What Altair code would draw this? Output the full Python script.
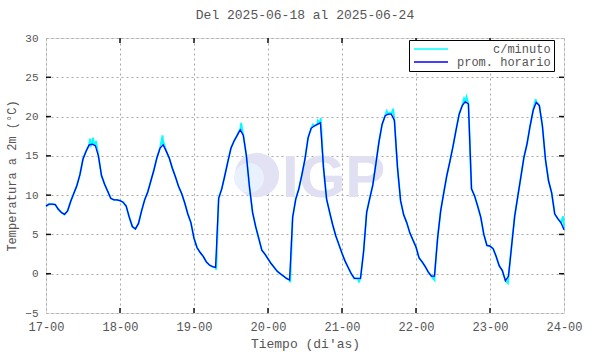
import altair as alt
import pandas as pd

# ---------------- data ----------------
horas = list(range(169))  # hours since 17-00
prom_horario = [
    8.6, 8.85, 8.85, 8.8, 8.2, 7.8, 7.55, 8.0, 9.2, 10.2, 11.2, 12.6, 14.6, 15.6, 16.4, 16.5,
    16.3, 15.0, 12.5, 11.4, 10.5, 9.6, 9.4, 9.4,
    9.3, 9.1, 8.6, 7.2, 6.0, 5.7, 6.4, 8.0, 9.4, 10.4, 11.8, 13.2, 14.8, 16.0, 16.4, 15.6,
    14.7, 13.4, 12.3, 11.1, 10.2, 9.0, 7.6, 6.5,
    4.5, 3.3, 2.7, 2.2, 1.5, 1.1, 0.9, 0.8, 9.6, 10.8, 12.5, 14.3, 16.0, 16.9, 17.6, 18.3,
    17.6, 15.0, 11.0, 7.8, 6.0, 4.5, 3.0, 2.5,
    1.9, 1.3, 0.8, 0.3, 0.0, -0.3, -0.6, -0.8, 7.2, 9.5, 10.8, 12.6, 14.6, 17.3, 18.5, 18.8,
    19.0, 19.2, 13.5, 9.5, 7.8, 6.2, 4.8, 3.7,
    2.6, 1.6, 0.8, 0.0, -0.6, -0.6, -0.6, 2.8, 7.8, 9.6, 11.3, 14.0, 16.8, 19.0, 20.1, 20.3,
    20.3, 19.5, 13.5, 9.3, 7.5, 6.5, 5.2, 4.3,
    3.4, 2.0, 1.5, 0.9, 0.2, -0.3, -0.3, 4.5, 8.0, 10.3, 12.5, 14.3, 16.2, 18.3, 20.3, 21.4,
    21.9, 21.6, 10.8, 9.9, 8.6, 7.2, 5.0, 3.6,
    3.5, 3.2, 2.2, 1.0, 0.4, -0.9, -0.3, 3.5, 7.3, 9.8, 12.3, 14.8, 16.5, 18.8, 20.8, 21.8,
    21.4, 18.8, 14.5, 11.8, 10.3, 7.6, 7.0, 6.5,
    5.6,
]
# extra minute-level excursions visible around the peaks / minima
picos_h = [14.3, 14.6, 15.2, 15.6, 16.2, 37.8, 38.2, 62.5, 63.3, 63.7, 86.6, 88.2, 89.1,
           110.5, 111.5, 112.6, 135.6, 136.4, 136.8, 158.8, 159.5,
           55.2, 79.2, 101.5, 126.0, 149.8, 167.7]
picos_t = [17.2, 16.3, 17.3, 16.4, 16.9, 17.6, 16.6, 18.1, 19.2, 18.2, 19.0, 19.5, 19.8,
           20.7, 20.5, 21.0, 22.3, 22.5, 21.9, 22.2, 21.7,
           0.5, -1.1, -1.0, -0.8, -1.2, 7.3]

series = ["c/minuto", "prom. horario"]
colores = ["#00ffff", "#0000ff"]
dias_ticks = [0, 24, 48, 72, 96, 120, 144, 168]
temp_ticks = [-5, 0, 5, 10, 15, 20, 25, 30]

df_h = pd.DataFrame({"h": horas, "T": prom_horario, "serie": series[1]})
min_pts = sorted(list(zip(horas, prom_horario)) + list(zip(picos_h, picos_t)))
df_m = pd.DataFrame(min_pts, columns=["h", "T"])
df_m["serie"] = series[0]

# ---------------- layout ----------------
W, H = 518, 275
FONT = "Liberation Mono"
TXT = "#555555"

xs = alt.Scale(domain=[0, 168], nice=False, zero=False)
ys = alt.Scale(domain=[-5, 30], nice=False, zero=False)
cs = alt.Scale(domain=series, range=colores)

x_axis = alt.Axis(values=dias_ticks, labelExpr="(17 + datum.value/24) + '-00'",
                  title="Tiempo (di'as)", grid=True, gridDash=[2, 3], gridColor="#a8a8a8",
                  ticks=False, domain=False, labelFont=FONT, labelFontSize=12,
                  labelColor=TXT, labelPadding=8, labelFlush=False, labelOverlap=False,
                  titleFont=FONT, titleFontSize=13, titleFontWeight="normal",
                  titleColor=TXT, titlePadding=5)
y_axis = alt.Axis(values=temp_ticks, title="Temperatura a 2m (°C)", grid=True,
                  gridDash=[2, 3], gridColor="#a8a8a8", ticks=False, domain=False,
                  labelFont=FONT, labelFontSize=11, labelColor=TXT, labelPadding=8,
                  labelFlush=False, labelOverlap=False, titleFont=FONT, titleFontSize=12,
                  titleFontWeight="normal", titleColor=TXT, titlePadding=6)

X = alt.X("h:Q", scale=xs, axis=x_axis)
Y = alt.Y("T:Q", scale=ys, axis=y_axis)
PAD = "\u200b" + "\u00a0" * 5
legend = alt.Legend(orient="none", legendX=363, legendY=2, title=None,
                    symbolType="M-1,0H7.5", symbolSize=64, symbolStrokeWidth=1.3,
                    labelFont=FONT, labelFontSize=12, labelColor=TXT,
                    labelExpr="datum.value == 'c/minuto' ? '" + PAD + "c/minuto' : datum.value",
                    strokeColor="black", fillColor="white", padding=3, rowPadding=1,
                    labelOffset=33, cornerRadius=0)
C = alt.Color("serie:N", scale=cs, legend=legend)

one = pd.DataFrame({"a": [0]})
logo_circle = alt.Chart(one).mark_point(filled=True, shape="circle", opacity=1,
                                        color="#e2e2f4").encode(
    x=alt.value(211), y=alt.value(137), size=alt.value(1960))
logo_inner = alt.Chart(one).mark_point(filled=True, shape="circle", opacity=1,
                                       color="#e9f1fc").encode(
    x=alt.value(203), y=alt.value(140), size=alt.value(900))
logo_text = alt.Chart(one).mark_text(text="IGP", font="Liberation Sans", fontSize=60,
                                     fontWeight="bold", color="#e0e0f2", align="left",
                                     baseline="alphabetic").encode(
    x=alt.value(236), y=alt.value(159))

line_min = alt.Chart(df_m).mark_line(strokeWidth=1.9, interpolate="linear").encode(
    x=X, y=Y, color=C)
line_h = alt.Chart(df_h).mark_line(strokeWidth=1.3, interpolate="linear").encode(
    x=X, y=Y, color=C)

xt = pd.DataFrame({"h": dias_ticks[1:-1]})
yt = pd.DataFrame({"T": temp_ticks[1:-1]})
tick_style = dict(color="#111", strokeWidth=1.5)
t_top = alt.Chart(xt).mark_rule(**tick_style).encode(x=X, y=alt.value(0), y2=alt.value(5))
t_bot = alt.Chart(xt).mark_rule(**tick_style).encode(x=X, y=alt.value(H - 5), y2=alt.value(H))
t_left = alt.Chart(yt).mark_rule(**tick_style).encode(y=Y, x=alt.value(0), x2=alt.value(5))
t_right = alt.Chart(yt).mark_rule(**tick_style).encode(y=Y, x=alt.value(W - 5), x2=alt.value(W))

chart = alt.layer(
    logo_circle, logo_inner, logo_text, line_min, line_h, t_top, t_bot, t_left, t_right
).properties(
    width=W, height=H,
    title=alt.Title("Del 2025-06-18 al 2025-06-24", font=FONT, fontSize=13,
                    fontWeight="normal", color=TXT, anchor="middle", offset=10),
    padding={"left": 46, "top": 38, "right": 26, "bottom": 41},
    autosize=alt.AutoSizeParams(type="none"),
).configure_view(stroke="black", strokeWidth=1.6).configure(background="white")

chart.save("out.html", embed_options={"renderer": "svg", "actions": False})
